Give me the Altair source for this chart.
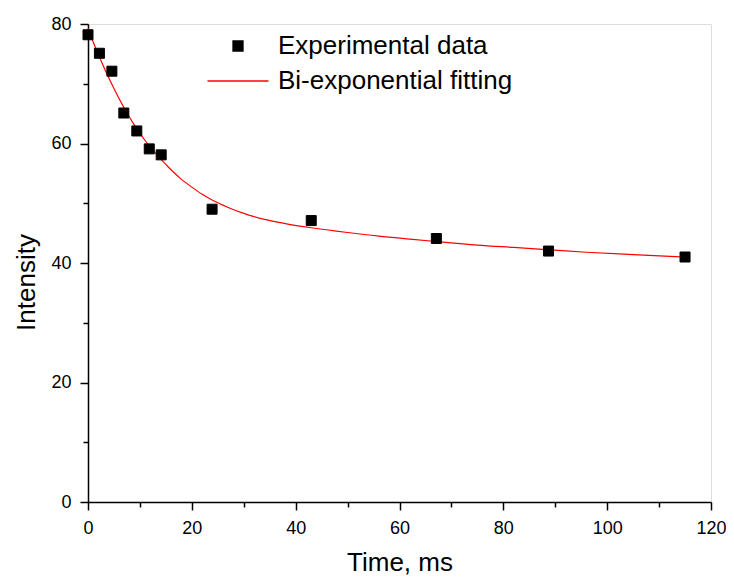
import altair as alt
import pandas as pd

# ---- data ----
exp_time = [0, 2.2, 4.6, 6.9, 9.4, 11.8, 14.1, 23.9, 43.0, 67.1, 88.7, 115.0]
exp_intensity = [78.2, 75.1, 72.1, 65.1, 62.1, 59.1, 58.1, 49.0, 47.1, 44.1, 42.0, 41.0]

fit_time = [0, 1, 2, 3, 4, 5, 6, 7, 8, 9, 10, 11, 12, 13, 14, 15, 16, 18, 20, 22, 24,
            27, 30, 34, 38, 43, 50, 56, 62, 67, 75, 82, 89, 96, 105, 115]
fit_intensity = [79.3, 77.0, 74.9, 72.9, 71.0, 69.2, 67.5, 65.9, 64.4, 63.0, 61.7, 60.5,
                 59.4, 58.4, 57.4, 56.5, 55.6, 54.0, 52.7, 51.5, 50.5, 49.3, 48.3, 47.3,
                 46.6, 45.9, 45.1, 44.5, 44.0, 43.6, 43.0, 42.6, 42.2, 41.8, 41.4, 41.0]

series_names = ["Experimental data", "Bi-exponential fitting"]
x_ticks = list(range(0, 121, 10))
y_ticks = list(range(0, 81, 10))

exp_df = pd.DataFrame({"t": exp_time, "I": exp_intensity, "series": series_names[0]})
fit_df = pd.DataFrame({"t": fit_time, "I": fit_intensity, "series": series_names[1]})

FONT = "Liberation Sans"

x_scale = alt.Scale(domain=[0, 120], nice=False, zero=False)
y_scale = alt.Scale(domain=[0, 80], nice=False)

common_axis = dict(
    grid=False, domainColor="black", domainWidth=1.5, tickColor="black", tickWidth=1.5,
    labelFont=FONT, labelFontSize=18, labelColor="black", labelFlush=False,
    titleFont=FONT, titleFontSize=26, titleFontWeight="normal", titleColor="black",
    labelExpr="datum.value % 20 === 0 ? datum.label : ''",
    tickSize={"condition": {"test": "datum.value % 20 === 0", "value": 8}, "value": 5},
    labelPadding=9,
)

x_axis = alt.Axis(values=x_ticks, title="Time, ms", titleBaseline="alphabetic", titleY=68,
                  **common_axis)
y_axis = alt.Axis(values=y_ticks, title="Intensity", titleBaseline="alphabetic",
                  titleX=-54, titleY=258, titleAngle=-90, titleAlign="center", **common_axis)

legend = alt.Legend(title=None, orient="none", legendX=137, legendY=9, padding=0,
                    labelFont=FONT, labelFontSize=26, labelColor="black", labelLimit=0,
                    symbolSize=100, labelOffset=27, rowPadding=9, symbolStrokeWidth=1.3)

fill_scale = alt.Scale(domain=series_names, range=["black", "#ff0000"])
stroke_scale = alt.Scale(domain=series_names, range=["black", "#ff0000"])
shape_scale = alt.Scale(domain=series_names, range=["square", "M-6.1,0L6.1,0"])

points = alt.Chart(exp_df).mark_point(filled=True, size=100, opacity=1, strokeWidth=1).encode(
    x=alt.X("t:Q", scale=x_scale, axis=x_axis),
    y=alt.Y("I:Q", scale=y_scale, axis=y_axis),
    fill=alt.Fill("series:N", scale=fill_scale, legend=legend),
    stroke=alt.Stroke("series:N", scale=stroke_scale, legend=legend),
    shape=alt.Shape("series:N", scale=shape_scale, legend=legend),
)

line = alt.Chart(fit_df).mark_line(strokeWidth=1.2, interpolate="monotone").encode(
    x=alt.X("t:Q", scale=x_scale),
    y=alt.Y("I:Q", scale=y_scale),
    stroke=alt.Stroke("series:N", scale=stroke_scale, legend=legend),
)

chart = alt.layer(line, points).properties(
    width=623, height=478,
    autosize=alt.AutoSizeParams(type="none"),
    padding={"left": 80, "top": 16, "right": 15, "bottom": 75},
).configure_view(stroke=None).configure(background="white")

chart.save("out.html", embed_options={"renderer": "svg", "actions": False})
